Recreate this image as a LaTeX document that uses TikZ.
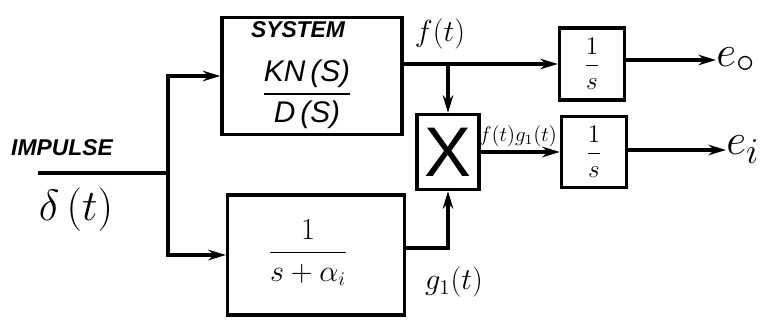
\documentclass[tikz,border=0pt]{standalone}
\usepackage{fontspec}
\usepackage{amsmath}
\setsansfont{Liberation Sans}
\usetikzlibrary{arrows.meta}
\begin{document}
\begin{tikzpicture}[x=0.02cm,y=-0.02cm,
  blk/.style={draw,line width=1.9pt,inner sep=0pt,minimum width=#1},
  arr/.style={line width=1.9pt,-{Stealth[length=10pt,width=6pt]}},
  ln/.style={line width=1.9pt},
  lbl/.style={inner sep=0pt,font=\sffamily\itshape}]
\useasboundingbox (0,0) rectangle (778,320);
% blocks
\node[blk=3.6cm,minimum height=2.34cm] (sys) at (312,76) {};
\node[blk=3.54cm,minimum height=2.4cm] (low) at (316,255) {};
\node[blk=1.24cm,minimum height=1.5cm] (mult) at (448,152) {};
\node[blk=1.3cm,minimum height=1.44cm] (int1) at (592,64) {};
\node[blk=1.3cm,minimum height=1.42cm] (int2) at (594,152) {};
% block contents
\node[lbl,font=\sffamily\itshape\bfseries\fontsize{13}{13}\selectfont] (systxt) at (298,30) {SYSTEM};
\node[inner sep=0pt] (sysfr) at (307,94) {\fontsize{17}{20}\selectfont$\dfrac{\textit{\sffamily KN\,(S)}}{\textit{\sffamily D\,(S)}}$};
\node[inner sep=0pt] (lowfr) at (308,253) {\fontsize{16}{19}\selectfont$\dfrac{1}{s+\alpha_i}$};
\node[inner sep=0pt,font=\sffamily\fontsize{40}{40}\selectfont] (xtxt) at (mult) {X};
\node[inner sep=0pt] (i1fr) at (int1) {\fontsize{15}{18}\selectfont$\dfrac{1}{s}$};
\node[inner sep=0pt] (i2fr) at (int2) {\fontsize{15}{18}\selectfont$\dfrac{1}{s}$};
% input
\coordinate (in) at (38,173);
\coordinate (j) at (168,173);
\draw[ln] (in) -- (j);
\draw[arr] (j) |- (sys.west);
\draw[arr] (j) |- (low.west);
\node[lbl,font=\sffamily\itshape\bfseries\fontsize{13}{13}\selectfont] (imp) at (62,148) {IMPULSE};
\node[inner sep=0pt] (delta) at (76,210) {\fontsize{24}{24}\selectfont$\delta\,(t)$};
% f(t)
\coordinate (b) at (448,64);
\draw[arr] (sys.east |- int1.west) -- (int1.west);
\draw[arr] (b) -- (mult.north);
\node[inner sep=0pt] (ft) at (440,34) {\fontsize{17}{17}\selectfont$f(t)$};
% g1(t)
\coordinate (g) at (448,248);
\draw[arr] (low.east |- g) -- (g) -- (mult.south);
\node[inner sep=0pt] (gt) at (454,282) {\fontsize{18}{18}\selectfont$g_1(t)$};
% product
\draw[arr] (mult.east) -- (int2.west);
\node[inner sep=0pt] (fgt) at (518,136) {\fontsize{12}{12}\selectfont$f(t)g_1(t)$};
% outputs
\node[inner sep=0pt,anchor=west] (eo) at (716,60) {\fontsize{28}{28}\selectfont$e_{\circ}$};
\node[inner sep=0pt,anchor=west] (ei) at (726,150) {\fontsize{28}{28}\selectfont$e_i$};
\draw[arr] (int1.east |- eo.west) -- (eo.west);
\draw[arr] (int2.east |- ei.west) -- (ei.west);
\end{tikzpicture}
\end{document}
